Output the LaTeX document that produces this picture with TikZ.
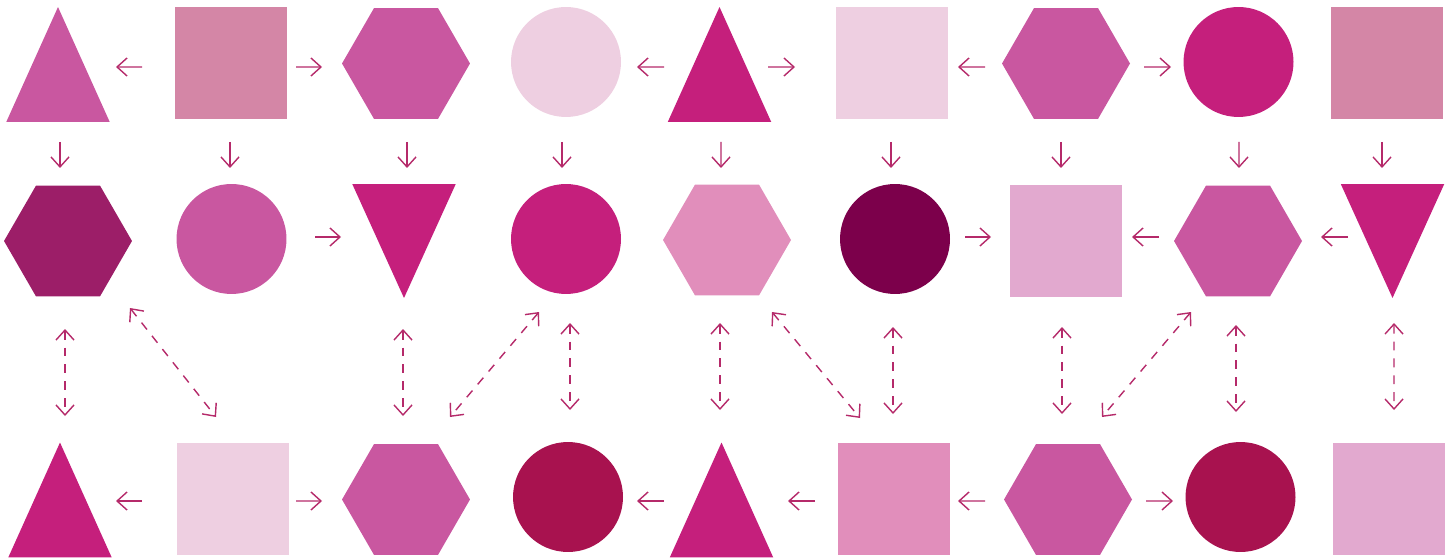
\documentclass[tikz,border=0pt]{standalone}
\usepackage{tikz}
\usetikzlibrary{arrows.meta,shapes.geometric}

\definecolor{paleP}{HTML}{EECFE1}
\definecolor{dustyP}{HTML}{D486A6}
\definecolor{orchidP}{HTML}{C957A0}
\definecolor{magentaP}{HTML}{C51F7C}
\definecolor{plumP}{HTML}{9C1E68}
\definecolor{roseP}{HTML}{E18EBB}
\definecolor{wineP}{HTML}{7C004B}
\definecolor{lilacP}{HTML}{E2A9CF}
\definecolor{crimsonP}{HTML}{A8124F}
\definecolor{arrowP}{HTML}{B52A6A}

\begin{document}
\begin{tikzpicture}[x=0.02cm,y=-0.02cm,
  blob/.style={inner sep=0pt,outer sep=0pt},
  sq/.style={blob,rectangle,fill=#1,minimum size=2.24cm},
  dot/.style={blob,circle,fill=#1,minimum size=2.2cm},
  hex/.style={blob,regular polygon,regular polygon sides=6,fill=#1,minimum size=2.56cm},
  tri/.style={blob,rectangle,minimum width=2.07cm,minimum height=2.3cm,
    path picture={\fill[#1] (path picture bounding box.south west) -- (path picture bounding box.south east)
      -- (path picture bounding box.north) -- cycle;}},
  trid/.style={blob,rectangle,minimum width=2.07cm,minimum height=2.28cm,
    path picture={\fill[#1] (path picture bounding box.north west) -- (path picture bounding box.north east)
      -- (path picture bounding box.south) -- cycle;}},
  arr/.style={draw=arrowP,line width=0.8pt,-{Straight Barb[length=2mm,width=3.6mm]}},
  twoway/.style={arr,{Straight Barb[length=2mm,width=3.6mm]}-{Straight Barb[length=2mm,width=3.6mm]},dash pattern=on 5pt off 4.6pt}]
  \useasboundingbox (0,0) rectangle (1452,560);

  \node[tri=orchidP] (t11) at (58,64.5) {};
  \node[sq=dustyP] (s12) at (231,63) {};
  \node[hex=orchidP] (h13) at (406,63.5) {};
  \node[dot=paleP] (c14) at (566,62) {};
  \node[tri=magentaP] (t15) at (719.5,64.5) {};
  \node[sq=paleP] (s16) at (892,63) {};
  \node[hex=orchidP] (h17) at (1066,63.5) {};
  \node[dot=magentaP] (c18) at (1238.5,62) {};
  \node[sq=dustyP] (s19) at (1387,63) {};

  \node[hex=plumP] (h21) at (68,241) {};
  \node[dot=orchidP] (c22) at (231.5,239) {};
  \node[trid=magentaP] (t23) at (404,241) {};
  \node[dot=magentaP] (c24) at (566,239) {};
  \node[hex=roseP] (h25) at (727,240) {};
  \node[dot=wineP] (c26) at (895,239) {};
  \node[sq=lilacP] (s27) at (1066,241) {};
  \node[hex=orchidP] (h28) at (1238,241) {};
  \node[trid=magentaP] (t29) at (1392.5,241) {};

  \node[tri=magentaP] (t31) at (60,500) {};
  \node[sq=paleP] (s32) at (233,499) {};
  \node[hex=orchidP] (h33) at (406,499.5) {};
  \node[dot=crimsonP] (c34) at (568,497) {};
  \node[tri=magentaP] (t35) at (721.5,500) {};
  \node[sq=roseP] (s36) at (894,499) {};
  \node[hex=orchidP] (h37) at (1068,499.5) {};
  \node[dot=crimsonP] (c38) at (1240.5,497) {};
  \node[sq=lilacP] (s39) at (1389,499) {};

  \draw[arr] ([shift={(-89,4)}]s12.center) -- ([shift={(58,2.5)}]t11.center);
  \draw[arr] ([shift={(65,4)}]s12.center) -- ([shift={(-84,3.5)}]h13.center);
  \draw[arr] ([shift={(-55.5,2.5)}]t15.center) -- ([shift={(71,5)}]c14.center);
  \draw[arr] ([shift={(48.5,2.5)}]t15.center) -- ([shift={(-97,4)}]s16.center);
  \draw[arr] ([shift={(-81,3.5)}]h17.center) -- ([shift={(66,4)}]s16.center);
  \draw[arr] ([shift={(78,3.5)}]h17.center) -- ([shift={(-67.5,5)}]c18.center);

  \draw[arr] ([shift={(2,77.5)}]t11.center) -- ([shift={(-8,-73)}]h21.center);
  \draw[arr] ([shift={(-1,79)}]s12.center) -- ([shift={(-1.5,-71)}]c22.center);
  \draw[arr] ([shift={(1,78.5)}]h13.center) -- ([shift={(3,-73)}]t23.center);
  \draw[arr] ([shift={(-4,80)}]c14.center) -- ([shift={(-4,-71)}]c24.center);
  \draw[arr] ([shift={(1.5,77.5)}]t15.center) -- ([shift={(-6,-72)}]h25.center);
  \draw[arr] ([shift={(-1,79)}]s16.center) -- ([shift={(-4,-71)}]c26.center);
  \draw[arr] ([shift={(-5,78.5)}]h17.center) -- ([shift={(-5,-73)}]s27.center);
  \draw[arr] ([shift={(0.5,80)}]c18.center) -- ([shift={(1,-73)}]h28.center);
  \draw[arr] ([shift={(-5,79)}]s19.center) -- ([shift={(-10.5,-73)}]t29.center);

  \draw[arr] ([shift={(83.5,-2)}]c22.center) -- ([shift={(-63,-4)}]t23.center);
  \draw[arr] ([shift={(70,-2)}]c26.center) -- ([shift={(-75,-4)}]s27.center);
  \draw[arr] ([shift={(-79,-4)}]h28.center) -- ([shift={(66,-4)}]s27.center);
  \draw[arr] ([shift={(-44.5,-4)}]t29.center) -- ([shift={(83,-4)}]h28.center);

  \draw[twoway] ([shift={(-3,88)}]h21.center) -- ([shift={(5,-84)}]t31.center);
  \draw[twoway] ([shift={(62,67)}]h21.center) -- ([shift={(-17,-82)}]s32.center);
  \draw[twoway] ([shift={(-1,88)}]t23.center) -- ([shift={(-3,-83.5)}]h33.center);
  \draw[twoway] ([shift={(-27,73)}]c24.center) -- ([shift={(44,-82.5)}]h33.center);
  \draw[twoway] ([shift={(4,84)}]c24.center) -- ([shift={(2,-87)}]c34.center);
  \draw[twoway] ([shift={(-7,83)}]h25.center) -- ([shift={(-1.5,-90)}]t35.center);
  \draw[twoway] ([shift={(45,72)}]h25.center) -- ([shift={(-34,-81)}]s36.center);
  \draw[twoway] ([shift={(-2,88)}]c26.center) -- ([shift={(-1,-85)}]s36.center);
  \draw[twoway] ([shift={(-4,86)}]s27.center) -- ([shift={(-6,-85.5)}]h37.center);
  \draw[twoway] ([shift={(-47,71)}]h28.center) -- ([shift={(34,-82.5)}]h37.center);
  \draw[twoway] ([shift={(-2,84)}]h28.center) -- ([shift={(-4.5,-85)}]c38.center);
  \draw[twoway] ([shift={(1.5,82)}]t29.center) -- ([shift={(5,-89)}]s39.center);

  \draw[arr] ([shift={(-91,2)}]s32.center) -- ([shift={(56,1)}]t31.center);
  \draw[arr] ([shift={(63,2)}]s32.center) -- ([shift={(-84,1.5)}]h33.center);
  \draw[arr] ([shift={(-57.5,1)}]t35.center) -- ([shift={(69,4)}]c34.center);
  \draw[arr] ([shift={(-79,2)}]s36.center) -- ([shift={(66.5,1)}]t35.center);
  \draw[arr] ([shift={(-83,1.5)}]h37.center) -- ([shift={(64,2)}]s36.center);
  \draw[arr] ([shift={(78,1.5)}]h37.center) -- ([shift={(-67.5,4)}]c38.center);
\end{tikzpicture}
\end{document}
